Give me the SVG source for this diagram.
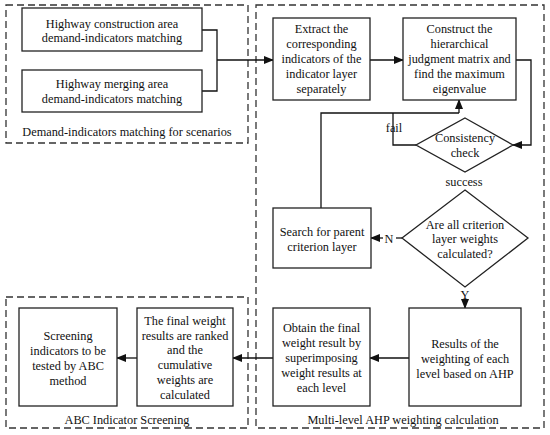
<svg xmlns="http://www.w3.org/2000/svg" width="550" height="435" viewBox="0 0 550 435">
<defs>
<style>
text{font-family:'Liberation Serif','Times New Roman',serif;font-size:12.3px;fill:#111;text-anchor:middle}
.box{fill:#fff;stroke:#222;stroke-width:1.3}
.grp{fill:none;stroke:#333;stroke-width:1.3;stroke-dasharray:7,4}
.ln{fill:none;stroke:#111;stroke-width:1.3}
.arr{marker-end:url(#ah)}
</style>
<marker id="ah" markerWidth="10" markerHeight="8" refX="9" refY="4" orient="auto" markerUnits="userSpaceOnUse">
<path d="M0,0 L10,4 L0,8 Z" fill="#111"/>
</marker>
</defs>
<rect width="550" height="435" fill="#fff"/>
<g id="groups">
<rect class="grp" x="6" y="5" width="242" height="138"/>
<rect class="grp" x="256" y="5" width="288" height="423"/>
<rect class="grp" x="6" y="297" width="242" height="131"/>
<text x="127" y="135.5">Demand-indicators matching for scenarios</text>
<text x="127" y="424">ABC Indicator Screening</text>
<text x="403" y="424">Multi-level AHP weighting calculation</text>
</g>
<g id="connectors">
<polyline class="ln" points="202,30 217,30 217,91 202,91"/>
<line class="ln arr" x1="217" y1="60" x2="273" y2="60"/>
<line class="ln arr" x1="370" y1="60" x2="403" y2="60"/>
<polyline class="ln arr" points="516,60 531,60 531,145 513,145"/>
<polyline class="ln" points="416,145 393,145 393,113"/>
<polyline class="ln" points="321,208 321,113 459,113"/>
<line class="ln arr" x1="459" y1="113" x2="459" y2="100"/>
<line class="ln" x1="402" y1="238" x2="396" y2="238"/>
<line class="ln arr" x1="383" y1="238" x2="371" y2="238"/>
<line class="ln arr" x1="465" y1="299" x2="465" y2="308"/>
<line class="ln arr" x1="409" y1="358" x2="370" y2="358"/>
<line class="ln arr" x1="273" y1="358" x2="233" y2="358"/>
<line class="ln arr" x1="137" y1="358" x2="117" y2="358"/>
<text x="394" y="132">fail</text>
<text x="464" y="186">success</text>
<text x="389" y="242.5">N</text>
<text x="465" y="299">Y</text>
</g>
<g id="n-construction">
<rect class="box" x="22" y="8" width="180" height="43"/>
<text x="112" y="27.5">Highway construction area</text>
<text x="112" y="42">demand-indicators matching</text>
</g>
<g id="n-merging">
<rect class="box" x="22" y="70" width="180" height="42"/>
<text x="112" y="88">Highway merging area</text>
<text x="112" y="103">demand-indicators matching</text>
</g>
<g id="n-extract">
<rect class="box" x="273" y="18" width="97" height="82"/>
<text x="321.5" y="33">Extract the</text>
<text x="321.5" y="48">corresponding</text>
<text x="321.5" y="63">indicators of the</text>
<text x="321.5" y="78">indicator layer</text>
<text x="321.5" y="93">separately</text>
</g>
<g id="n-construct">
<rect class="box" x="403" y="18" width="113" height="82"/>
<text x="459.5" y="33">Construct the</text>
<text x="459.5" y="48">hierarchical</text>
<text x="459.5" y="63">judgment matrix and</text>
<text x="459.5" y="78">find the maximum</text>
<text x="459.5" y="93">eigenvalue</text>
</g>
<g id="n-consistency">
<polygon class="box" points="465,118 513,145 465,172 416,145"/>
<text x="465" y="141.5">Consistency</text>
<text x="465" y="156.5">check</text>
</g>
<g id="n-allcalc">
<polygon class="box" points="465,190 528,238 465,287 402,238"/>
<text x="465" y="228.5">Are all criterion</text>
<text x="465" y="242.5">layer weights</text>
<text x="465" y="257.5">calculated?</text>
</g>
<g id="n-search">
<rect class="box" x="273" y="208" width="98" height="60"/>
<text x="322" y="235.5">Search for parent</text>
<text x="322" y="250.5">criterion layer</text>
</g>
<g id="n-results">
<rect class="box" x="409" y="308" width="112" height="98"/>
<text x="465" y="347.5">Results of the</text>
<text x="465" y="362.5">weighting of each</text>
<text x="465" y="377.5">level based on AHP</text>
</g>
<g id="n-obtain">
<rect class="box" x="273" y="308" width="97" height="98"/>
<text x="321.5" y="331.5">Obtain the final</text>
<text x="321.5" y="346.5">weight result by</text>
<text x="321.5" y="361.5">superimposing</text>
<text x="321.5" y="376.5">weight results at</text>
<text x="321.5" y="391.5">each level</text>
</g>
<g id="n-final">
<rect class="box" x="137" y="308" width="96" height="98"/>
<text x="185" y="325">The final weight</text>
<text x="185" y="339.5">results are ranked</text>
<text x="185" y="354">and the</text>
<text x="185" y="369">cumulative</text>
<text x="185" y="384">weights are</text>
<text x="185" y="399">calculated</text>
</g>
<g id="n-screening">
<rect class="box" x="19" y="308" width="98" height="98"/>
<text x="68" y="339.5">Screening</text>
<text x="68" y="354.5">indicators to be</text>
<text x="68" y="369.5">tested by ABC</text>
<text x="68" y="384.5">method</text>
</g>
</svg>
